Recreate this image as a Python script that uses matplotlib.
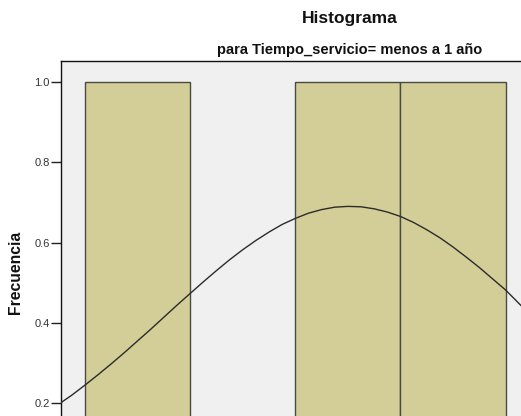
import matplotlib
matplotlib.use("Agg")
import matplotlib.pyplot as plt

# Data
bin_edges = [0, 1, 2, 3, 4]
counts = [1, 0, 1, 1]
curve_x = [-0.23, -0.125, 0.0, 0.125, 0.25, 0.375, 0.5, 0.625, 0.75, 0.875,
           1.0, 1.125, 1.25, 1.375, 1.5, 1.625, 1.75, 1.875, 2.0, 2.125,
           2.25, 2.375, 2.5, 2.625, 2.75, 2.875, 3.0, 3.125, 3.25, 3.375,
           3.5, 3.625, 3.75, 3.875, 4.0, 4.125, 4.25]
curve_y = [0.201, 0.220, 0.245, 0.271, 0.298, 0.326, 0.355, 0.384, 0.414, 0.444,
           0.473, 0.502, 0.530, 0.557, 0.582, 0.605, 0.626, 0.645, 0.660, 0.673,
           0.682, 0.688, 0.690, 0.689, 0.684, 0.676, 0.665, 0.650, 0.632, 0.612,
           0.589, 0.564, 0.538, 0.510, 0.482, 0.449, 0.416]
y_ticks = [0.2, 0.4, 0.6, 0.8, 1.0]

title = "Histograma"
subtitle = "para Tiempo_servicio= menos a 1 año"
ylabel = "Frecuencia"

W, H = 521, 416
fig = plt.figure(figsize=(W / 100, H / 100), dpi=100)
fig.patch.set_facecolor("white")

# axes in pixel coordinates (part of it lies outside the picture, as in the reference)
left_px, top_px, right_px, bottom_px = 61, 61, 529.5, 483.5
ax = fig.add_axes([left_px / W, 1 - bottom_px / H,
                   (right_px - left_px) / W, (bottom_px - top_px) / H])
ax.set_facecolor("#f0f0f0")

widths = [bin_edges[i + 1] - bin_edges[i] for i in range(len(counts))]
lefts = bin_edges[:-1]
ax.bar(lefts, counts, width=widths, align="edge", color="#d3ce97",
       edgecolor="#4a4a44", linewidth=1.0, zorder=2)
ax.plot(curve_x, curve_y, color="#2b2b2b", linewidth=1.0, zorder=3,
        solid_joinstyle="round")

ax.set_xlim(-0.228, 4.228)
ax.set_ylim(0, 1.052)
ax.set_yticks(y_ticks)
ax.set_yticklabels([f"{v:.1f}" for v in y_ticks], fontsize=8, color="#333333",
                   family="Liberation Sans")
ax.tick_params(axis="y", direction="out", length=7.5, width=1, color="#222222", pad=0.5)
ax.tick_params(axis="x", bottom=False, labelbottom=False)
for s in ax.spines.values():
    s.set_color("#111111")
    s.set_linewidth(1.0)

fig.text(350 / W, 1 - 18.5 / H, title, ha="center", va="center",
         fontsize=12.5, fontweight="bold", family="Liberation Sans", color="#111111")
fig.text(350 / W, 1 - 50 / H, subtitle, ha="center", va="center",
         fontsize=10.5, fontweight="bold", family="Liberation Sans", color="#111111")
fig.text(16 / W, 1 - 272 / H, ylabel, ha="center", va="center", rotation=90,
         fontsize=11.3, fontweight="bold", family="Liberation Sans", color="#111111")

fig.savefig("out.png", dpi=100)
